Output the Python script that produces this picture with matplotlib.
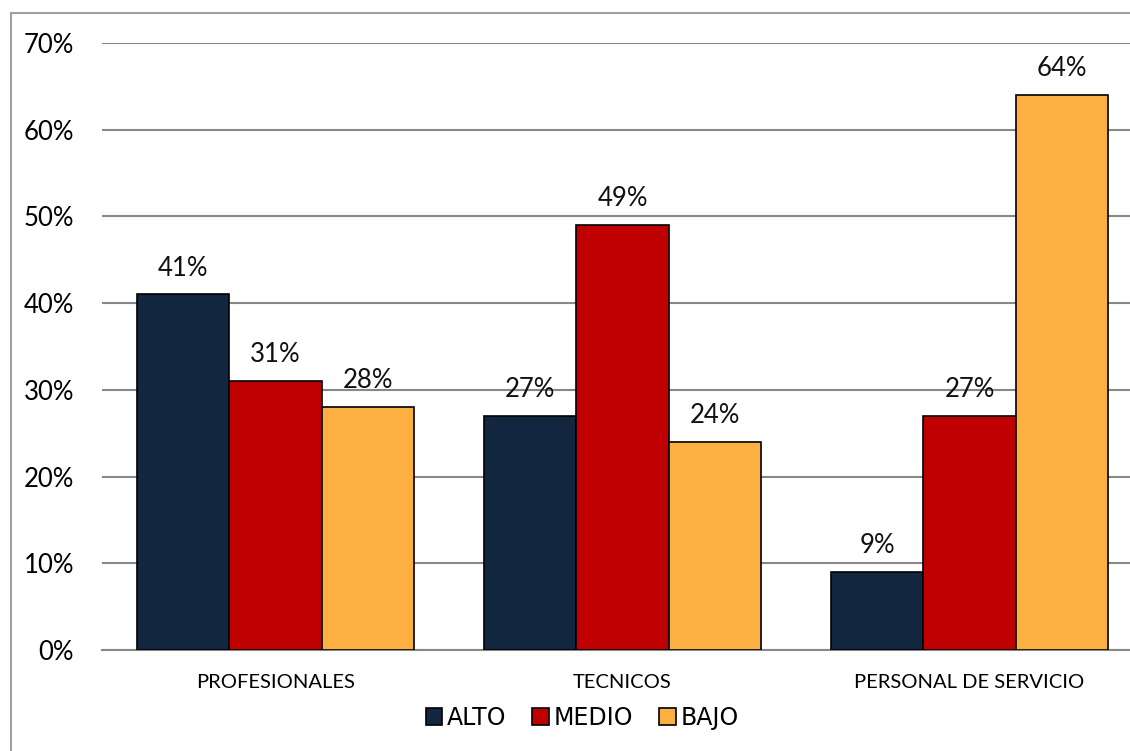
import matplotlib.pyplot as plt
import matplotlib.patches as patches
import numpy as np

plt.rcParams['font.family'] = ['Lato', 'DejaVu Sans']

# datos del gráfico
categorias = ['PROFESIONALES', 'TECNICOS', 'PERSONAL DE SERVICIO']
niveles = ['ALTO', 'MEDIO', 'BAJO']
alto = [41, 27, 9]
medio = [31, 49, 27]
bajo = [28, 24, 64]
colores = ['#13263F', '#C00000', '#FDB042']

fig = plt.figure(figsize=(11.3, 7.51), dpi=100)
ax = fig.add_axes([102 / 1130, 101 / 751, 1041 / 1130, 607 / 751])

x = np.arange(len(categorias))
w = 0.2666
for i, (serie, col) in enumerate(zip([alto, medio, bajo], colores)):
    barras = ax.bar(x + (i - 1) * w, serie, w, color=col, edgecolor='black',
                    linewidth=1.2, zorder=3, label=niveles[i])
    for b, v in zip(barras, serie):
        ax.annotate(f'{v}%', (b.get_x() + b.get_width() / 2, v),
                    xytext=(0, 19), textcoords='offset points',
                    ha='center', va='center', fontsize=18.5, color='#111111')

ax.set_xlim(-0.5, 2.5)
ax.set_ylim(0, 70)
ax.set_yticks(range(0, 71, 10))
ax.set_yticklabels([f'{t}%' for t in range(0, 71, 10)], fontsize=18.5)
ax.set_xticks(x)
ax.set_xticklabels(categorias, fontsize=14.5)
ax.tick_params(axis='y', length=0, pad=20)
ax.tick_params(axis='x', length=0, pad=17)
ax.grid(axis='y', color='#888888', linewidth=1.5, zorder=0)
for s in ['top', 'right', 'left']:
    ax.spines[s].set_visible(False)
ax.spines['bottom'].set_color('#888888')
ax.spines['bottom'].set_linewidth(1.5)

# leyenda abajo al centro
fig.legend(loc='center', bbox_to_anchor=(582 / 1130, 1 - 718 / 751), ncol=3,
           frameon=False, prop={'family': 'Liberation Sans Narrow', 'size': 17},
           handlelength=0.7, handleheight=0.7, handletextpad=0.2,
           columnspacing=1.1)

# marco del área del gráfico
fig.patches.append(patches.Rectangle((10.5 / 1130, -0.2), 1.2, 1.2 - 12.5 / 751,
                                     transform=fig.transFigure, fill=False,
                                     edgecolor='#A0A0A0', linewidth=1.5))

fig.savefig('out.png', dpi=100)
